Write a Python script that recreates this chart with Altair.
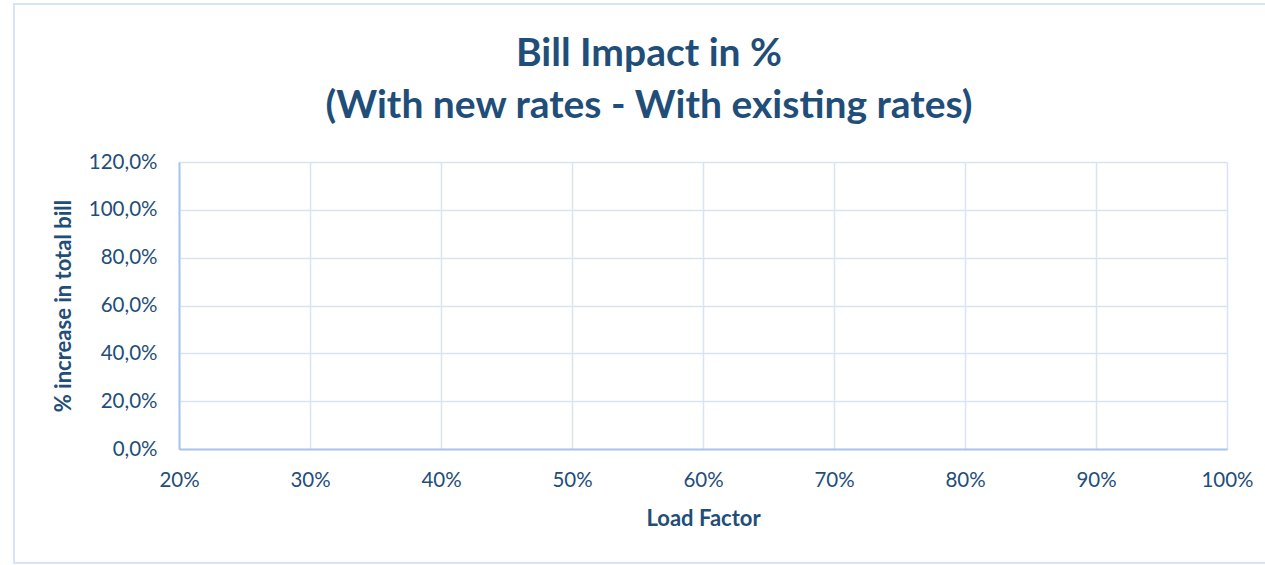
import altair as alt
import pandas as pd

# Axis ticks of the bill-impact chart
load_factor_ticks = [0.2, 0.3, 0.4, 0.5, 0.6, 0.7, 0.8, 0.9, 1.0]
increase_ticks = [0.0, 0.2, 0.4, 0.6, 0.8, 1.0, 1.2]

# Series (no points plotted yet)
load_factor = []
bill_increase = []

TEXT = "#1F4E79"
GRID = "#D9E4F3"
AXIS = "#A9C6EC"
FONT = "Lato"

df = pd.DataFrame({"load_factor": pd.Series(load_factor, dtype=float),
                   "bill_increase": pd.Series(bill_increase, dtype=float)})

W, H = 1048, 287

series = alt.Chart(df).mark_line(color="#4472C4").encode(
    x=alt.X("load_factor:Q",
            scale=alt.Scale(domain=[load_factor_ticks[0], load_factor_ticks[-1]], nice=False, zero=False),
            axis=alt.Axis(values=load_factor_ticks, format=".0%", title="Load Factor",
                          titleY=69, titleBaseline="middle", labelPadding=21,
                          labelFlush=False)),
    y=alt.Y("bill_increase:Q",
            scale=alt.Scale(domain=[increase_ticks[0], increase_ticks[-1]], nice=False),
            axis=alt.Axis(values=increase_ticks,
                          labelExpr="replace(format(datum.value, '.1%'), '.', ',')",
                          title="% increase in total bill",
                          titleX=-116, titleY=H / 2, titleBaseline="middle",
                          titleAngle=-90, labelPadding=22)),
)

# light outer border of the chart area
frame = alt.Chart(alt.Data(values=[{}])).mark_rect(
    fill="transparent", stroke="#D6E4F5", strokeWidth=2
).encode(
    x=alt.value(-165), x2=alt.value(1110),
    y=alt.value(-158), y2=alt.value(401),
)

chart = alt.layer(frame, series).properties(
    width=W,
    height=H,
    title=alt.TitleParams(
        text=["Bill Impact in %", "(With new rates - With existing rates)"],
        anchor="middle", dx=-54, fontSize=39, font=FONT, fontWeight="bold",
        color=TEXT, lineHeight=52, baseline="alphabetic", offset=-154,
    ),
    autosize=alt.AutoSizeParams(type="none"),
    padding={"left": 179, "top": 162, "right": 38, "bottom": 116},
).configure(
    background="white"
).configure_view(
    stroke=None
).configure_axis(
    labelFont=FONT, labelFontSize=20.5, labelColor=TEXT,
    titleFont=FONT, titleFontSize=22, titleFontWeight="bold", titleColor=TEXT,
    grid=True, gridColor=GRID, gridWidth=1.5,
    domainColor=AXIS, domainWidth=2, ticks=False,
)

chart.save("out.html", embed_options={"renderer": "svg", "actions": False})
